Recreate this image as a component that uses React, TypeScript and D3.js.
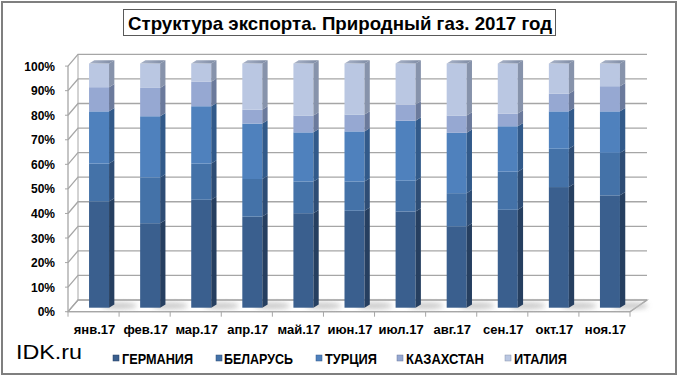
import React from "react";
import * as d3 from "d3";

const categories = ["янв.17", "фев.17", "мар.17", "апр.17", "май.17", "июн.17", "июл.17", "авг.17", "сен.17", "окт.17", "ноя.17"];
const seriesNames = ["ГЕРМАНИЯ", "БЕЛАРУСЬ", "ТУРЦИЯ", "КАЗАХСТАН", "ИТАЛИЯ"];
const germany = [43.5, 34.6, 44.2, 37.3, 38.7, 39.7, 39.4, 33.2, 40.1, 49.4, 46.0];
const belarus = [15.5, 18.7, 14.8, 15.4, 13.0, 12.0, 12.6, 13.7, 15.6, 15.7, 17.4];
const turkey = [21.4, 25.1, 23.5, 22.7, 20.1, 20.5, 24.6, 24.7, 18.6, 15.3, 17.0];
const kazakhstan = [9.9, 11.6, 10.0, 5.7, 6.9, 6.9, 6.6, 7.1, 5.2, 7.2, 10.3];
const italy = [9.7, 10.0, 7.5, 18.9, 21.3, 20.9, 16.8, 21.3, 20.5, 12.4, 9.3];
const yTicks = [0, 10, 20, 30, 40, 50, 60, 70, 80, 90, 100];

const frontColors = ["#3A5F8E", "#4472A8", "#4F81BD", "#96A8D2", "#BAC7E2"];
const sideColors = ["#263F60", "#2E4D75", "#325A8A", "#6B7A9C", "#8793AB"];
const legendMarkerX = [113, 216, 316, 397, 505];
const legendTextX = [122, 224, 325, 406, 514];
const legendTextW = [71, 69, 52, 78, 53];

export default function App() {
  const W = 680, H = 380;
  const rows = categories.map((c, i) => ({
    cat: c,
    [seriesNames[0]]: germany[i],
    [seriesNames[1]]: belarus[i],
    [seriesNames[2]]: turkey[i],
    [seriesNames[3]]: kazakhstan[i],
    [seriesNames[4]]: italy[i],
  }));
  const stacked = d3.stack<any>().keys(seriesNames)(rows);

  const x = d3.scaleBand<string>().domain(categories).range([68, 630]);
  const yFront = d3.scaleLinear().domain([0, 100]).range([311.7, 66.1]);
  const yBar = d3.scaleLinear().domain([0, 100]).range([307.7, 63.5]);
  const depthY = -11.7;
  const backL = 78, backR = 647, frontL = 68, frontR = 630;
  const barW = 20, barDx = 5.3, barDy = -3.3, barOff = 5.5;

  const gridColor = "#A6A6A6";

  return (
    <svg width={W} height={H} style={{ position: "absolute", left: 0, top: 0 }} fontFamily="'Liberation Sans', Arial, sans-serif">
      <defs>
        <filter id="blur" x="-50%" y="-50%" width="200%" height="200%">
          <feGaussianBlur stdDeviation="2.5" />
        </filter>
        <linearGradient id="topGrad" x1="0" y1="0" x2="1" y2="0">
          <stop offset="0" stopColor="#A9B3C8" />
          <stop offset="1" stopColor="#7D8AA3" />
        </linearGradient>
      </defs>
      <rect x={0} y={0} width={W} height={H} fill="#fff" />
      <rect x={2} y={2} width={674} height={372} fill="none" stroke="#7F7F7F" strokeWidth={2} />

      {/* Title */}
      <rect x={123.5} y={9.5} width={432} height={26} fill="#fff" stroke="#595959" strokeWidth={1} />
      <text x={128} y={29.5} fontSize={19} fontWeight="bold" textLength={424} lengthAdjust="spacingAndGlyphs" fill="#000">
        Структура экспорта. Природный газ. 2017 год
      </text>

      {/* Floor */}
      <polygon
        points={`${frontL},${yFront(0)} ${frontR},${yFront(0)} ${backR},${yFront(0) + depthY} ${backL},${yFront(0) + depthY}`}
        fill="#fff"
        stroke={gridColor}
        strokeWidth={1.2}
      />
      {/* Gridlines */}
      {yTicks.map((t) => (
        <g key={t}>
          <polyline
            points={`${frontL},${yFront(t)} ${backL},${yFront(t) + depthY} ${backR},${yFront(t) + depthY}`}
            fill="none"
            stroke={gridColor}
            strokeWidth={1.3}
          />
        </g>
      ))}
      <line x1={backL} x2={backL} y1={yFront(100) + depthY} y2={yFront(0) + depthY} stroke={gridColor} strokeWidth={1} />
      <line x1={frontL} x2={frontL} y1={yFront(100)} y2={yFront(0)} stroke={gridColor} strokeWidth={1.3} />
      <line x1={frontL} x2={frontR} y1={yFront(0)} y2={yFront(0)} stroke={gridColor} strokeWidth={1.3} />
      <line x1={frontR} x2={backR} y1={yFront(0)} y2={yFront(0) + depthY} stroke={gridColor} strokeWidth={1.3} />
      {/* y ticks */}
      {yTicks.map((t) => (
        <line key={"yt" + t} x1={frontL - 3} x2={frontL} y1={yFront(t)} y2={yFront(t)} stroke={gridColor} strokeWidth={1} />
      ))}
      {/* x ticks */}
      {categories.map((c, i) => (
        <line key={"xt" + c} x1={x(c)!} x2={x(c)!} y1={yFront(0)} y2={yFront(0) + 5} stroke={gridColor} strokeWidth={1} />
      ))}
      <line x1={frontR} x2={frontR} y1={yFront(0)} y2={yFront(0) + 5} stroke={gridColor} strokeWidth={1} />

      {/* Floor shadows */}
      {categories.map((c) => {
        const cx = x(c)! + x.bandwidth() / 2 + barOff;
        return (
          <ellipse key={"sh" + c} cx={cx + barW / 2 + 10} cy={yBar(0) - 2} rx={18} ry={3.5} fill="#BFBFBF" filter="url(#blur)" opacity={0.8} />
        );
      })}

      {/* Bars */}
      {stacked.map((s, si) => (
        <g key={s.key}>
          {s.map((d, i) => {
            const c = categories[i];
            const x0 = x(c)! + x.bandwidth() / 2 + barOff - barW / 2;
            const x1 = x0 + barW;
            const yt = yBar(d[1]);
            const yb = yBar(d[0]);
            return (
              <g key={c}>
                <rect x={x0} y={yt} width={barW} height={yb - yt} fill={frontColors[si]} />
                <polygon
                  points={`${x1},${yt} ${x1 + barDx},${yt + barDy} ${x1 + barDx},${yb + barDy} ${x1},${yb}`}
                  fill={sideColors[si]}
                />
                {si === stacked.length - 1 && (
                  <polygon
                    points={`${x0},${yt} ${x0 + barDx},${yt + barDy} ${x1 + barDx},${yt + barDy} ${x1},${yt}`}
                    fill="url(#topGrad)"
                  />
                )}
              </g>
            );
          })}
        </g>
      ))}

      {/* Y labels */}
      {yTicks.map((t) => (
        <text key={"yl" + t} x={55} y={yFront(t) + 4.5} textAnchor="end" fontSize={12} fontWeight="bold" fill="#000">
          {t + "%"}
        </text>
      ))}

      {/* X labels */}
      {categories.map((c) => (
        <text key={"xl" + c} x={x(c)! + x.bandwidth() / 2 + 1} y={334} textAnchor="middle" fontSize={13} fontWeight="bold" fill="#000">
          {c}
        </text>
      ))}

      {/* Watermark */}
      <text x={16} y={358.5} fontSize={21} textLength={66} lengthAdjust="spacingAndGlyphs" fill="#000">
        IDK.ru
      </text>

      {/* Legend */}
      {seriesNames.map((n, i) => (
        <g key={"lg" + n}>
          <rect x={legendMarkerX[i]} y={355} width={6} height={6} fill={frontColors[i]} stroke={sideColors[i]} strokeWidth={0.5} />
          <text x={legendTextX[i]} y={363.5} fontSize={14} fontWeight="bold" textLength={legendTextW[i]} lengthAdjust="spacingAndGlyphs" fill="#000">
            {n}
          </text>
        </g>
      ))}
    </svg>
  );
}
